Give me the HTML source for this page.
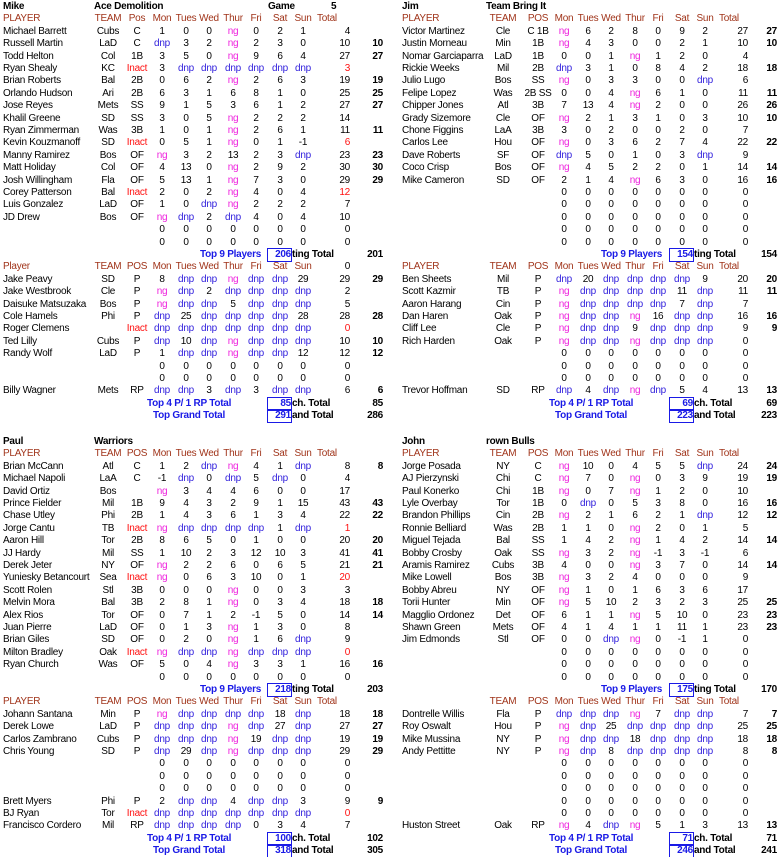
<!DOCTYPE html>
<html><head><meta charset="utf-8">
<style>
html,body{margin:0;padding:0;background:#fff;}
#sheet{position:relative;width:779px;height:857px;overflow:hidden;font-family:"Liberation Sans",Arial,sans-serif;font-size:10px;color:#000;}
#sheet span{position:absolute;line-height:14px;height:14px;white-space:nowrap;letter-spacing:-0.25px;}
.c{transform:translateX(-50%);}
.r{transform:translateX(-100%);}
.hd{color:#a0341a;}
.ng{color:#ee22dd;}
.dnp{color:#3322dd;}
.ina{color:#ff1111;}
.b{font-weight:bold;}
.blue{color:#1a1ae6;font-weight:bold;}
.box{position:absolute;border:1px solid #1a1ae6;box-sizing:border-box;height:14px;}
</style></head>
<body>
<div id="sheet"></div>
<script>
const mikeHitters=[
"Michael Barrett|Cubs|C|1|0|0|ng|0|2|1|4|",
"Russell Martin|LaD|C|dnp|3|2|ng|2|3|0|10|10",
"Todd Helton|Col|1B|3|5|0|ng|9|6|4|27|27",
"Ryan Shealy|KC|Inact|3|dnp|dnp|dnp|dnp|dnp|dnp|3|",
"Brian Roberts|Bal|2B|0|6|2|ng|2|6|3|19|19",
"Orlando Hudson|Ari|2B|6|3|1|6|8|1|0|25|25",
"Jose Reyes|Mets|SS|9|1|5|3|6|1|2|27|27",
"Khalil Greene|SD|SS|3|0|5|ng|2|2|2|14|",
"Ryan Zimmerman|Was|3B|1|0|1|ng|2|6|1|11|11",
"Kevin Kouzmanoff|SD|Inact|0|5|1|ng|0|1|-1|6|",
"Manny Ramirez|Bos|OF|ng|3|2|13|2|3|dnp|23|23",
"Matt Holiday|Col|OF|4|13|0|ng|2|9|2|30|30",
"Josh Willingham|Fla|OF|5|13|1|ng|7|3|0|29|29",
"Corey Patterson|Bal|Inact|2|0|2|ng|4|0|4|12|",
"Luis Gonzalez|LaD|OF|1|0|dnp|ng|2|2|2|7|",
"JD Drew|Bos|OF|ng|dnp|2|dnp|4|0|4|10|",
"Z","Z"];
const mikePitchers=[
"Jake Peavy|SD|P|8|dnp|dnp|ng|dnp|dnp|29|29|29",
"Jake Westbrook|Cle|P|ng|dnp|2|dnp|dnp|dnp|dnp|2|",
"Daisuke Matsuzaka|Bos|P|ng|dnp|dnp|5|dnp|dnp|dnp|5|",
"Cole Hamels|Phi|P|dnp|25|dnp|dnp|dnp|dnp|28|28|28",
"Roger Clemens||Inact|dnp|dnp|dnp|dnp|dnp|dnp|dnp|0|",
"Ted Lilly|Cubs|P|dnp|10|dnp|ng|dnp|dnp|dnp|10|10",
"Randy Wolf|LaD|P|1|dnp|dnp|ng|dnp|dnp|12|12|12",
"Z","Z",
"Billy Wagner|Mets|RP|dnp|dnp|3|dnp|3|dnp|dnp|6|6"];
const jimHitters=[
"Victor Martinez|Cle|C 1B|ng|6|2|8|0|9|2|27|27",
"Justin Morneau|Min|1B|ng|4|3|0|0|2|1|10|10",
"Nomar Garciaparra|LaD|1B|0|0|1|ng|1|2|0|4|",
"Rickie Weeks|Mil|2B|dnp|3|1|0|8|4|2|18|18",
"Julio Lugo|Bos|SS|ng|0|3|3|0|0|dnp|6|",
"Felipe Lopez|Was|2B SS|0|0|4|ng|6|1|0|11|11",
"Chipper Jones|Atl|3B|7|13|4|ng|2|0|0|26|26",
"Grady Sizemore|Cle|OF|ng|2|1|3|1|0|3|10|10",
"Chone Figgins|LaA|3B|3|0|2|0|0|2|0|7|",
"Carlos Lee|Hou|OF|ng|0|3|6|2|7|4|22|22",
"Dave Roberts|SF|OF|dnp|5|0|1|0|3|dnp|9|",
"Coco Crisp|Bos|OF|ng|4|5|2|2|0|1|14|14",
"Mike Cameron|SD|OF|2|1|4|ng|6|3|0|16|16",
"Z","Z","Z","Z","Z"];
const jimPitchers=[
"Ben Sheets|Mil|P|dnp|20|dnp|dnp|dnp|dnp|9|20|20",
"Scott Kazmir|TB|P|ng|dnp|dnp|dnp|dnp|11|dnp|11|11",
"Aaron Harang|Cin|P|ng|dnp|dnp|dnp|dnp|7|dnp|7|",
"Dan Haren|Oak|P|ng|dnp|dnp|ng|16|dnp|dnp|16|16",
"Cliff Lee|Cle|P|ng|dnp|dnp|9|dnp|dnp|dnp|9|9",
"Rich Harden|Oak|P|ng|dnp|dnp|ng|dnp|dnp|dnp|0|",
"Z","Z","Z",
"Trevor Hoffman|SD|RP|dnp|4|dnp|ng|dnp|5|4|13|13"];
const paulHitters=[
"Brian McCann|Atl|C|1|2|dnp|ng|4|1|dnp|8|8",
"Michael Napoli|LaA|C|-1|dnp|0|dnp|5|dnp|0|4|",
"David Ortiz|Bos||ng|3|4|4|6|0|0|17|",
"Prince Fielder|Mil|1B|9|4|3|2|9|1|15|43|43",
"Chase Utley|Phi|2B|1|4|3|6|1|3|4|22|22",
"Jorge Cantu|TB|Inact|ng|dnp|dnp|dnp|dnp|1|dnp|1|",
"Aaron Hill|Tor|2B|8|6|5|0|1|0|0|20|20",
"JJ Hardy|Mil|SS|1|10|2|3|12|10|3|41|41",
"Derek Jeter|NY|OF|ng|2|2|6|0|6|5|21|21",
"Yuniesky Betancourt|Sea|Inact|ng|0|6|3|10|0|1|20|",
"Scott Rolen|Stl|3B|0|0|0|ng|0|0|3|3|",
"Melvin Mora|Bal|3B|2|8|1|ng|0|3|4|18|18",
"Alex Rios|Tor|OF|0|7|1|2|-1|5|0|14|14",
"Juan Pierre|LaD|OF|0|1|3|ng|1|3|0|8|",
"Brian Giles|SD|OF|0|2|0|ng|1|6|dnp|9|",
"Milton Bradley|Oak|Inact|ng|dnp|dnp|ng|dnp|dnp|dnp|0|",
"Ryan Church|Was|OF|5|0|4|ng|3|3|1|16|16",
"Z"];
const paulPitchers=[
"Johann Santana|Min|P|ng|dnp|dnp|dnp|dnp|18|dnp|18|18",
"Derek Lowe|LaD|P|dnp|dnp|dnp|ng|dnp|27|dnp|27|27",
"Carlos Zambrano|Cubs|P|dnp|dnp|dnp|ng|19|dnp|dnp|19|19",
"Chris Young|SD|P|dnp|29|dnp|ng|dnp|dnp|dnp|29|29",
"Z","Z","Z",
"Brett Myers|Phi|P|2|dnp|dnp|4|dnp|dnp|3|9|9",
"BJ Ryan|Tor|Inact|dnp|dnp|dnp|dnp|dnp|dnp|dnp|0|",
"Francisco Cordero|Mil|RP|dnp|dnp|dnp|dnp|0|3|4|7|"];
const johnHitters=[
"Jorge Posada|NY|C|ng|10|0|4|5|5|dnp|24|24",
"AJ Pierzynski|Chi|C|ng|7|0|ng|0|3|9|19|19",
"Paul Konerko|Chi|1B|ng|0|7|ng|1|2|0|10|",
"Lyle Overbay|Tor|1B|0|dnp|0|5|3|8|0|16|16",
"Brandon Phillips|Cin|2B|ng|2|1|6|2|1|dnp|12|12",
"Ronnie Belliard|Was|2B|1|1|0|ng|2|0|1|5|",
"Miguel Tejada|Bal|SS|1|4|2|ng|1|4|2|14|14",
"Bobby Crosby|Oak|SS|ng|3|2|ng|-1|3|-1|6|",
"Aramis Ramirez|Cubs|3B|4|0|0|ng|3|7|0|14|14",
"Mike Lowell|Bos|3B|ng|3|2|4|0|0|0|9|",
"Bobby Abreu|NY|OF|ng|1|0|1|6|3|6|17|",
"Torii Hunter|Min|OF|ng|5|10|2|3|2|3|25|25",
"Magglio Ordonez|Det|OF|6|1|1|ng|5|10|0|23|23",
"Shawn Green|Mets|OF|4|1|4|1|1|11|1|23|23",
"Jim Edmonds|Stl|OF|0|0|dnp|ng|0|-1|1|0|",
"Z","Z","Z"];
const johnPitchers=[
"Dontrelle Willis|Fla|P|dnp|dnp|dnp|ng|7|dnp|dnp|7|7",
"Roy Oswalt|Hou|P|ng|dnp|25|dnp|dnp|dnp|dnp|25|25",
"Mike Mussina|NY|P|ng|dnp|dnp|18|dnp|dnp|dnp|18|18",
"Andy Pettitte|NY|P|ng|dnp|8|dnp|dnp|dnp|dnp|8|8",
"Z","Z","Z","Z","Z",
"Huston Street|Oak|RP|ng|4|dnp|ng|5|1|3|13|13"];

const sheet=document.getElementById('sheet');
const PITCH=12.4;
function put(txt,x,y,cls,name){
  const s=document.createElement('span');
  s.textContent=txt;
  s.className=cls||'';
  s.style.left=x+'px';
  s.style.top=(y-7)+'px';
  
  
  sheet.appendChild(s);
  return s;
}
function box(x,y,w,name){
  const d=document.createElement('div');
  d.className='box';
  d.style.left=x+'px';d.style.top=(y-7)+'px';d.style.width=w+'px';
  
  
  sheet.appendChild(d);
}
const LEFT={name:3,team:108,pos:137,days:[162,186,209,233,256,280,303],total:350,totalHd:317,extra:383,box:267,top9:200,top4:147,grand:153};
const RIGHT={name:402,team:503,pos:538,days:[564,588,611,635,658,682,705],total:748,totalHd:719,extra:777,box:669,top9:601,top4:549,grand:555};
const DAYS=['Mon','Tues','Wed','Thur','Fri','Sat','Sun'];
function header(L,y,label,totalLabel){
  if(label) put(label,L.name,y,'hd','player-column-header');
  put('TEAM',L.team,y,'hd c','team-column-header');
  put(L===LEFT&&label==='PLAYER'&&y<30?'Pos':'POS',L.pos,y,'hd c','pos-column-header');
  DAYS.forEach((d,i)=>put(d,L.days[i],y,'hd c','day-header-'+d.toLowerCase()));
  if(totalLabel==='Total') put('Total',L.totalHd,y,'hd','total-column-header');
  else if(totalLabel) put(totalLabel,L.total,y,'r','total-column-header');
}
function rowOut(L,y,str){
  if(str==='Z'){
    for(let i=0;i<7;i++) put('0',L.days[i],y,'c','empty-day-cell');
    put('0',L.total,y,'r','empty-total-cell');return;
  }
  const f=str.split('|');
  const inact=f[2]==='Inact';
  put(f[0],L.name,y,'','player-name');
  put(f[1],L.team,y,'c','player-team');
  put(f[2],L.pos,y,inact?'ina c':'c','player-position');
  for(let i=0;i<7;i++){
    const v=f[3+i];
    const cls=v==='ng'?'ng c':v==='dnp'?'dnp c':'c';
    put(v,L.days[i],y,cls,'day-score');
  }
  put(f[10],L.total,y,inact?'ina r':'r','player-total');
  if(f[11]) put(f[11],L.extra,y,'b r','counted-total');
}
function block(L,y0,owner,team,hit,pitch,top9,hitTot,top4,pitTot,grand,grandTot,pHeadLabel,pTotLabel,game){
  const Y=i=>y0+i*PITCH;
  put(owner,L.name,Y(0),'b','owner-name');
  put(team,L===LEFT?94:486,Y(0),'b','team-name');
  if(game){put('Game',268,Y(0),'b','game-label');put('5',331,Y(0),'b','game-number');}
  header(L,Y(1),'PLAYER','Total');
  hit.forEach((r,i)=>rowOut(L,Y(2+i),r));
  put('Top 9 Players',L.top9,Y(20),'blue','top9-label');
  box(L.box,Y(20),25,'top9-box');
  put(String(top9),L.box+24,Y(20),'blue r','top9-value');
  put('ting Total',L.box+25,Y(20),'b','hitting-total-label');
  put(String(hitTot),L.extra,Y(20),'b r','hitting-total-value');
  header(L,Y(21),pHeadLabel,pTotLabel);
  pitch.forEach((r,i)=>rowOut(L,Y(22+i),r));
  put('Top 4 P/ 1 RP Total',L.top4,Y(32),'blue','top4-label');
  box(L.box,Y(32),25,'top4-box');
  put(String(top4),L.box+24,Y(32),'blue r','top4-value');
  put('ch. Total',L.box+25,Y(32),'b','pitching-total-label');
  put(String(pitTot),L.extra,Y(32),'b r','pitching-total-value');
  put('Top Grand Total',L.grand,Y(33),'blue','grand-label');
  box(L.box,Y(33),25,'grand-box');
  put(String(grand),L.box+24,Y(33),'blue r','grand-value');
  put('and Total',L.box+25,Y(33),'b','grand-total-label');
  put(String(grandTot),L.extra,Y(33),'b r','grand-total-value');
}
block(LEFT,7,'Mike','Ace Demolition',mikeHitters,mikePitchers,206,201,85,85,291,286,'Player','0',true);
block(RIGHT,7,'Jim','Team Bring It',jimHitters,jimPitchers,154,154,69,69,223,223,'PLAYER','Total',false);
block(LEFT,442,'Paul','Warriors',paulHitters,paulPitchers,218,203,100,102,318,305,'PLAYER','Total',false);
block(RIGHT,442,'John','rown Bulls',johnHitters,johnPitchers,175,170,71,71,246,241,'','Total',false);
</script>
</body></html>
